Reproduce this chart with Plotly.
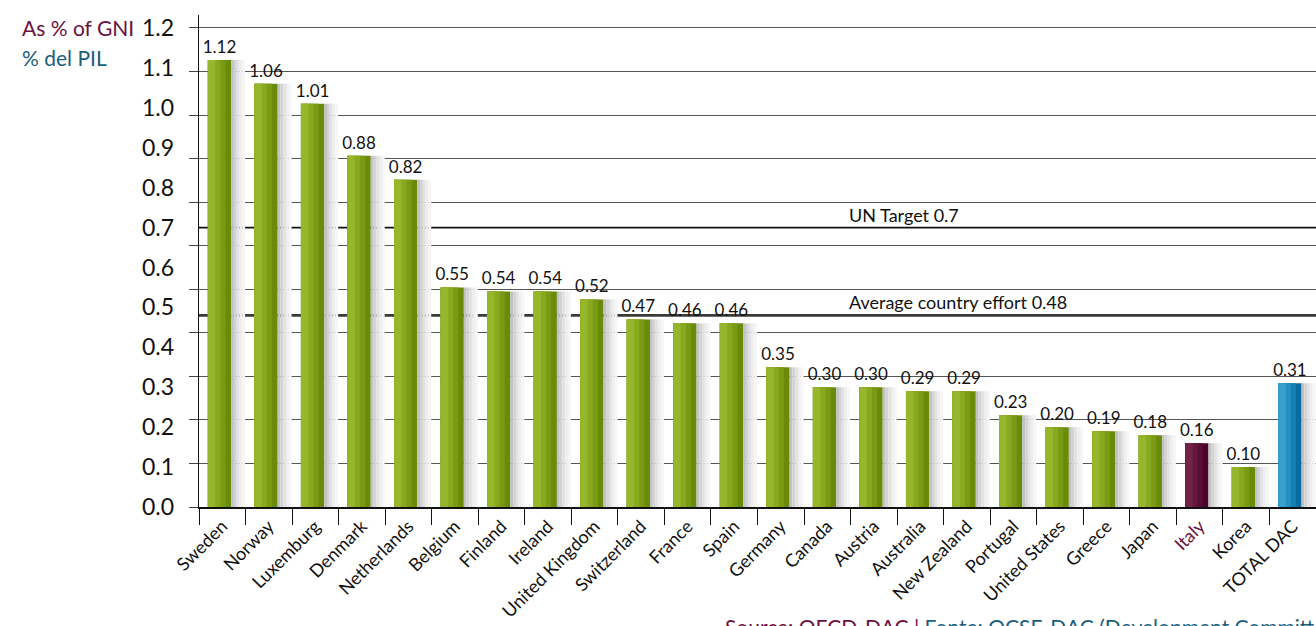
import plotly.graph_objects as go

# Official development assistance as a share of gross national income
countries = [
    "Sweden", "Norway", "Luxemburg", "Denmark", "Netherlands", "Belgium",
    "Finland", "Ireland", "United Kingdom", "Switzerland", "France", "Spain",
    "Germany", "Canada", "Austria", "Australia", "New Zealand", "Portugal",
    "United States", "Greece", "Japan", "Italy", "Korea", "TOTAL DAC",
]
values = [
    1.12, 1.06, 1.01, 0.88, 0.82, 0.55,
    0.54, 0.54, 0.52, 0.47, 0.46, 0.46,
    0.35, 0.30, 0.30, 0.29, 0.29, 0.23,
    0.20, 0.19, 0.18, 0.16, 0.10, 0.31,
]
un_target = 0.7
average_effort = 0.48
y_tick_values = [0.0, 0.1, 0.2, 0.3, 0.4, 0.5, 0.6, 0.7, 0.8, 0.9, 1.0, 1.1, 1.2]

FONT = "Lato"
MAROON = "#6b1040"
TEAL = "#1b5e7c"

# colour ramps per bar, darkest (right side) first, lightest (left side) last
GREEN = ["#6a8a09", "#7a9a14", "#88a820", "#96b62c"]
WINE = ["#4c0428", "#580c32", "#64163d", "#722448"]
BLUE = ["#0a6c9e", "#1380b3", "#248fc2", "#3a9ecf"]


def ramp(country):
    if country == "Italy":
        return WINE
    if country == "TOTAL DAC":
        return BLUE
    return GREEN


tick_text = [
    f"<span style='color:{MAROON}'>{c}</span>" if c == "Italy" else c
    for c in countries
]

y_range = [0, 1.2325]
grid_values = [k * 1.2 / 11 for k in range(12)]

fig = go.Figure()

# soft drop shadow to the right of every bar
for off, col in [(0.19, "#c2c2c2"), (0.25, "#d3d3d3"), (0.31, "#e2e2e2"),
                 (0.37, "#eeeeee"), (0.43, "#f6f6f6")]:
    fig.add_trace(go.Bar(
        x=countries, y=values, yaxis="y2",
        offset=off, width=0.06,
        marker=dict(color=col, line=dict(width=0)),
        hoverinfo="skip", showlegend=False,
    ))

# main bars with their value labels
fig.add_trace(go.Bar(
    x=countries, y=values,
    offset=-0.31, width=0.5,
    marker=dict(color=[ramp(c)[0] for c in countries], line=dict(width=0)),
    text=[f"{v:.2f}" for v in values],
    textposition="outside",
    constraintext="none",
    textfont=dict(family=FONT, size=17, color="#111111"),
    cliponaxis=False,
    hoverinfo="skip", showlegend=False,
))

# progressively lighter bands toward the left edge of each bar
for i, w in [(1, 0.38), (2, 0.27), (3, 0.16)]:
    fig.add_trace(go.Bar(
        x=countries, y=values,
        offset=-0.31, width=w,
        marker=dict(color=[ramp(c)[i] for c in countries], line=dict(width=0)),
        hoverinfo="skip", showlegend=False,
    ))

# reference lines
fig.add_shape(type="line", xref="paper", x0=0, x1=1, yref="y", y0=un_target, y1=un_target,
              line=dict(color="#111111", width=1.8), layer="below")
fig.add_shape(type="line", xref="paper", x0=0, x1=1, yref="y", y0=average_effort, y1=average_effort,
              line=dict(color="#3a3a3a", width=2.6), layer="below")

fig.add_annotation(text="UN Target 0.7", xref="paper", x=0.580, yref="y", y=un_target,
                   xanchor="left", yanchor="middle", yshift=13, showarrow=False,
                   font=dict(family=FONT, size=18, color="#111111"))
fig.add_annotation(text=f"Average country effort {average_effort}", xref="paper", x=0.580,
                   yref="y", y=average_effort, xanchor="left", yanchor="middle", yshift=13,
                   showarrow=False, font=dict(family=FONT, size=18, color="#111111"))

# axis caption
fig.add_annotation(text="As % of GNI", xref="paper", x=-0.1603, yref="paper", y=0.9736,
                   xanchor="left", yanchor="middle", showarrow=False,
                   font=dict(family=FONT, size=21, color=MAROON))
fig.add_annotation(text="% del PIL", xref="paper", x=-0.1603, yref="paper", y=0.9146,
                   xanchor="left", yanchor="middle", showarrow=False,
                   font=dict(family=FONT, size=21, color=TEAL))

# source line along the bottom edge
fig.add_annotation(
    text=(f"<span style='color:{MAROON}'>Source: OECD-DAC | </span>"
          f"<span style='color:{TEAL}'>Fonte: OCSE-DAC (Development Committee)</span>"),
    xref="paper", x=0.469, yref="paper", y=-0.2134,
    xanchor="left", yanchor="top", showarrow=False,
    font=dict(family=FONT, size=21),
)

fig.update_layout(
    width=1316, height=626,
    margin=dict(l=199, r=0, t=15, b=119),
    paper_bgcolor="white", plot_bgcolor="white",
    barmode="overlay",
    font=dict(family=FONT, color="#111111"),
    xaxis=dict(
        type="category",
        categoryorder="array", categoryarray=countries,
        tickvals=countries, ticktext=tick_text,
        tickson="boundaries",
        ticks="outside", ticklen=16, tickcolor="#111111", tickwidth=1.2,
        tickangle=-45,
        tickfont=dict(family=FONT, size=18, color="#111111"),
        showline=True, linecolor="#111111", linewidth=1.6,
        showgrid=False, zeroline=False,
    ),
    yaxis=dict(
        range=y_range,
        tickvals=grid_values,
        showticklabels=False,
        ticks="outside", ticklen=9, tickcolor="#444444", tickwidth=1.2,
        showgrid=True, gridcolor="#555555", gridwidth=1.2,
        showline=True, linecolor="#111111", linewidth=1.4,
        zeroline=False,
    ),
    yaxis2=dict(
        range=y_range,
        overlaying="y", side="left", anchor="x",
        tickvals=y_tick_values,
        ticktext=[f"{v:.1f}" for v in y_tick_values],
        ticks="", ticklabelstandoff=24,
        tickfont=dict(family=FONT, size=23, color="#111111"),
        showgrid=False, showline=False, zeroline=False,
    ),
)

fig.write_html("out.html")
